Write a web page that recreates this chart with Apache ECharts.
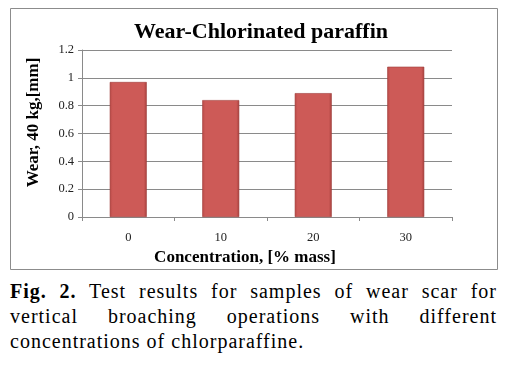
<!DOCTYPE html>
<html><head><meta charset="utf-8">
<script src="https://cdn.jsdelivr.net/npm/echarts@6/dist/echarts.min.js"></script>
<style>
html,body{margin:0;padding:0;background:#fff;}
#chart{position:absolute;left:0;top:0;width:518px;height:275px;}
#cap{position:absolute;left:10px;top:279px;width:487px;font-family:"Liberation Serif","DejaVu Serif",serif;font-size:20px;line-height:25px;color:#000;letter-spacing:1px;}
.j{text-align:justify;text-align-last:justify;white-space:nowrap;}
</style>
</head><body>
<div id="chart"></div>
<div id="cap">
<div class="j"><b>Fig. 2.</b> Test results for samples of wear scar for</div>
<div class="j">vertical broaching operations with different</div>
<div>concentrations of chlorparaffine.</div>
</div>
<script>
const categories = ["0", "10", "20", "30"];
const wearValues = [0.97, 0.84, 0.89, 1.08];
const titleText = "Wear-Chlorinated paraffin";
const xName = "Concentration, [% mass]";
const yName = "Wear, 40 kg,[mm]";

const chart = echarts.init(document.getElementById('chart'));
const serif = '"Liberation Serif", "Times New Roman", serif';
chart.setOption({
  backgroundColor: '#fff',
  animation: false,
  title: {
    text: titleText, left: 256, top: 16, textAlign: 'center',
    textStyle: {fontFamily: serif, fontWeight: 'bold', fontSize: 22, color: '#000'}
  },
  graphic: [{
    type: 'rect', shape: {x: 10.5, y: 8.5, width: 487, height: 261},
    style: {fill: 'none', stroke: '#8c8c8c', lineWidth: 1}, silent: true
  }],
  grid: {left: 82, right: 66, top: 50, bottom: 58, containLabel: false},
  xAxis: {
    type: 'category', data: categories,
    name: xName, nameLocation: 'middle', nameGap: 29,
    nameTextStyle: {fontFamily: serif, fontWeight: 'bold', fontSize: 17, color: '#000', padding: [0, 44, 0, 0]},
    axisLine: {lineStyle: {color: '#8a8a8a'}},
    axisTick: {show: true, alignWithLabel: false, length: 4, lineStyle: {color: '#8a8a8a'}},
    axisLabel: {fontFamily: serif, fontSize: 12.5, color: '#222', margin: 14}
  },
  yAxis: {
    type: 'value', min: 0, max: 1.2, interval: 0.2,
    name: yName, nameLocation: 'middle', nameGap: 40, nameRotate: 90,
    nameTextStyle: {fontFamily: serif, fontWeight: 'bold', fontSize: 17, color: '#000', padding: [0, 0, 0, 22]},
    axisLine: {show: true, lineStyle: {color: '#8a8a8a'}},
    axisTick: {show: true, length: 4, lineStyle: {color: '#8a8a8a'}},
    axisLabel: {fontFamily: serif, fontSize: 12.5, color: '#222', margin: 8,
      formatter: v => (Math.round(v * 10) / 10).toString()},
    splitLine: {lineStyle: {color: '#8a8a8a'}}
  },
  series: [{
    type: 'bar', data: wearValues, barWidth: 37,
    itemStyle: {
      color: new echarts.graphic.LinearGradient(0, 0, 1, 0, [
        {offset: 0, color: '#b94a47'},
        {offset: 0.08, color: '#cd5a57'},
        {offset: 0.92, color: '#cd5a57'},
        {offset: 1, color: '#a8403d'}
      ]),
      borderColor: '#9e3c39', borderWidth: 0.6
    }
  }]
});
</script>
</body></html>
